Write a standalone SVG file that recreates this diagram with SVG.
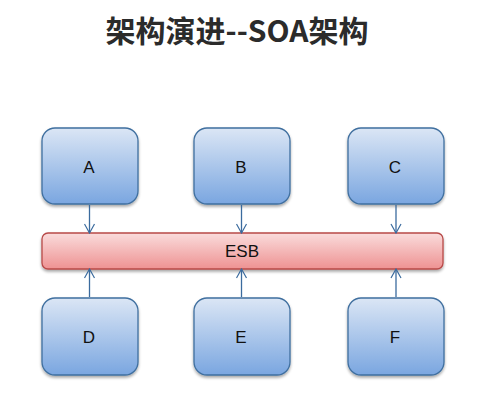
<svg xmlns="http://www.w3.org/2000/svg" width="500" height="412" viewBox="0 0 500 412">
<defs>
<linearGradient id="gb" x1="0" y1="0" x2="0" y2="1">
<stop offset="0" stop-color="#dbe6f5"/>
<stop offset="1" stop-color="#7aa6e0"/>
</linearGradient>
<linearGradient id="gr" x1="0" y1="0" x2="0" y2="1">
<stop offset="0" stop-color="#fadcdc"/>
<stop offset="1" stop-color="#ee9292"/>
</linearGradient>
<filter id="sh" x="-10%" y="-10%" width="120%" height="130%">
<feGaussianBlur in="SourceAlpha" stdDeviation="1.5"/>
<feOffset dx="0" dy="2" result="b"/>
<feComponentTransfer><feFuncA type="linear" slope="0.35"/></feComponentTransfer>
<feMerge><feMergeNode/><feMergeNode in="SourceGraphic"/></feMerge>
</filter>
<marker id="ar" viewBox="0 0 12 12" refX="11" refY="6" markerWidth="12" markerHeight="12" markerUnits="userSpaceOnUse" orient="auto">
<path d="M2,1 L11,6 L2,11" fill="none" stroke="#3b6b9e" stroke-width="1.2"/>
</marker>
</defs>
<style>
.node{fill:url(#gb);stroke:#3f6f9f;stroke-width:1.3;filter:url(#sh)}
.bus{fill:url(#gr);stroke:#b84a48;stroke-width:1.3;filter:url(#sh)}
.lbl{font-family:"Liberation Sans","DejaVu Sans",sans-serif;font-size:17px;fill:#111;text-anchor:middle}
.con{stroke:#3b6b9e;stroke-width:1.3;fill:none}
</style>
<rect width="500" height="412" fill="#ffffff"/>
<text x="237" y="42" font-family="'Noto Sans CJK SC','Noto Sans',sans-serif" font-size="30" font-weight="bold" fill="#2b2b2b" text-anchor="middle">架构演进--SOA架构</text>
<g id="esb"><rect class="bus" x="42" y="233" width="401" height="36" rx="6"/><text class="lbl" x="242" y="257">ESB</text></g>
<g id="A"><rect class="node" x="42" y="128" width="96" height="76" rx="13"/><text class="lbl" x="89" y="173">A</text></g>
<g id="B"><rect class="node" x="194" y="128" width="96" height="76" rx="13"/><text class="lbl" x="241" y="173">B</text></g>
<g id="C"><rect class="node" x="348" y="128" width="96" height="76" rx="13"/><text class="lbl" x="395" y="173">C</text></g>
<g id="D"><rect class="node" x="42" y="298" width="96" height="77" rx="13"/><text class="lbl" x="89" y="343">D</text></g>
<g id="E"><rect class="node" x="194" y="298" width="96" height="77" rx="13"/><text class="lbl" x="241" y="343">E</text></g>
<g id="F"><rect class="node" x="348" y="298" width="96" height="77" rx="13"/><text class="lbl" x="395" y="343">F</text></g>
<g id="connectors">
<line class="con" x1="89.5" y1="205" x2="89.5" y2="233" marker-end="url(#ar)"/>
<line class="con" x1="241.5" y1="205" x2="241.5" y2="233" marker-end="url(#ar)"/>
<line class="con" x1="396" y1="205" x2="396" y2="233" marker-end="url(#ar)"/>
<line class="con" x1="89.5" y1="297" x2="89.5" y2="269" marker-end="url(#ar)"/>
<line class="con" x1="241.5" y1="297" x2="241.5" y2="269" marker-end="url(#ar)"/>
<line class="con" x1="396" y1="297" x2="396" y2="269" marker-end="url(#ar)"/>
</g>
</svg>
